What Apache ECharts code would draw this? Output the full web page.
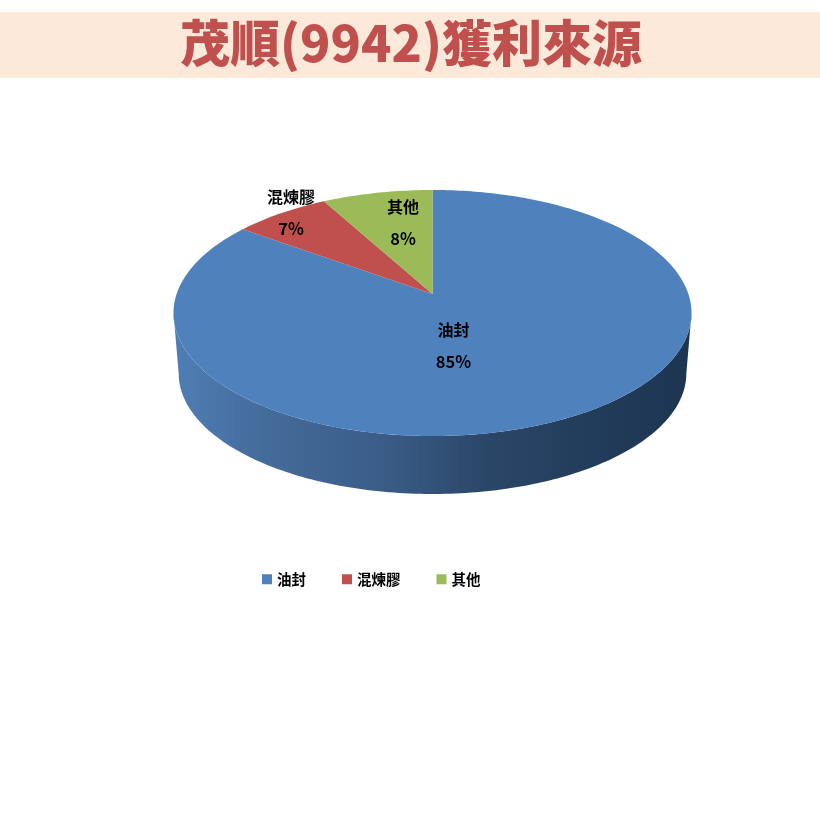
<!DOCTYPE html>
<html><head><meta charset="utf-8">
<style>html,body{margin:0;padding:0;background:#fff}#c{width:820px;height:820px}</style>
<script src="https://cdn.jsdelivr.net/npm/echarts@6/dist/echarts.min.js"></script>
</head><body><div id="c"></div>
<script>
const titleText = '茂順(9942)獲利來源';
const categories = ['油封', '混煉膠', '其他'];
const shares = [85, 7, 8];
const colors = ['#4f81bd', '#c0504d', '#9bbb59'];

// Perspective disc geometry (layout only)
const APEX = {x: 432.5, y: 294}, A = 255.9, B = 120.1, K = 0.1545;
const BOTTOM = {x: 432.5, y: 354.8, s: 0.98};
const LEFT_X = 173, RIGHT_X = 692;
const WALL_FROM = 98.9, WALL_TO = 261.1;
const labelOffsets = [[21, 36, 68], [-141.5, -97, -65], [-29.5, -87, -55]]; // dx, name dy, percent dy

const wallFill = {type:'linear', x:LEFT_X, y:0, x2:RIGHT_X, y2:0, global:true, colorStops:[
  {offset:0, color:'#4f7eb5'}, {offset:0.18, color:'#446b9a'}, {offset:0.4, color:'#3a5d88'},
  {offset:0.6, color:'#2b4768'}, {offset:0.85, color:'#203a58'}, {offset:1, color:'#1d3550'}]};

function proj(deg, base, scale) {
  const t = deg * Math.PI / 180, X = Math.sin(t), Y = Math.cos(t), w = 1 + K * Y;
  return [base.x + scale * A * X / w, base.y - scale * B * Y / w];
}
function arc(a, b, base, scale) {
  const pts = [], n = Math.max(2, Math.ceil(Math.abs(b - a)));
  for (let i = 0; i <= n; i++) pts.push(proj(a + (b - a) * i / n, base, scale));
  return pts;
}
function renderSlice(idx) {
  return function (params, api) {
    const total = shares.reduce((s, v) => s + v, 0);
    const before = shares.slice(0, idx).reduce((s, v) => s + v, 0);
    const a0 = before / total * 360, a1 = a0 + api.value(0) / total * 360;
    const children = [];
    const w0 = Math.max(a0, WALL_FROM), w1 = Math.min(a1, WALL_TO);
    if (w1 > w0) {
      const top = arc(w0, w1, APEX, 1);
      const bot = arc(w1, w0, BOTTOM, BOTTOM.s);
      children.push({type:'polygon', shape:{points: top.concat(bot)}, style:{fill: wallFill}});
    }
    children.push({type:'polygon', shape:{points: [[APEX.x, APEX.y]].concat(arc(a0, a1, APEX, 1))},
      style:{fill: colors[idx]}});
    const off = labelOffsets[idx];
    const lx = APEX.x + off[0];
    const font = {fontFamily:'"Noto Sans CJK TC"', fontWeight:'bold', fontSize:16, fill:'#000', align:'center', verticalAlign:'middle'};
    children.push({type:'text', z2:10, style:Object.assign({x:lx, y:APEX.y + off[1], text:categories[idx]}, font)});
    children.push({type:'text', z2:10, style:Object.assign({x:lx, y:APEX.y + off[2], text:Math.round(api.value(0)) + '%'}, font, {fontSize:16.5})});
    return {type:'group', children};
  };
}
const chart = echarts.init(document.getElementById('c'), null, {renderer:'canvas'});
chart.setOption({
  animation:false,
  backgroundColor:'#fff',
  color:colors,
  graphic:[
    {type:'rect', z:-1, shape:{x:0, y:12, width:820, height:66}, style:{fill:'#fde9d9'}},
    {type:'text', z:5, style:{x:411, y:43, text:titleText, align:'center', verticalAlign:'middle',
      fontFamily:'"Noto Sans CJK TC"', fontWeight:900, fontSize:50, fill:'#c0504d'}}
  ],
  legend:{left:257, top:567, icon:'rect', itemWidth:10, itemHeight:10, itemGap:36,
    data:categories, selectedMode:false,
    textStyle:{fontFamily:'"Noto Sans CJK TC"', fontWeight:'bold', fontSize:14.5, color:'#000', padding:[0,0,0,0]}},
  series: categories.map((name, i) => ({
    type:'custom', name, coordinateSystem:'none', silent:true,
    itemStyle:{color:colors[i]},
    data:[[shares[i]]],
    renderItem:renderSlice(i)
  }))
});
</script></body></html>
